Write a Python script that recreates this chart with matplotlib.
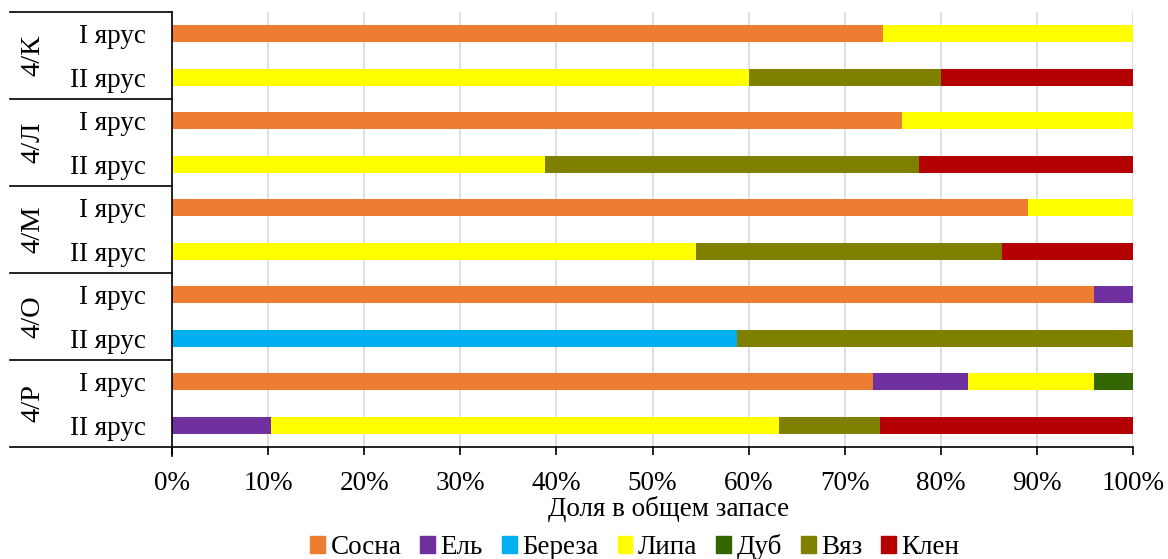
import matplotlib.pyplot as plt
import matplotlib.transforms as mtransforms
from matplotlib.patches import Patch

plt.rcParams['font.family'] = ['Liberation Serif', 'DejaVu Serif']

# categories (top to bottom)
groups = ['4/К', '4/Л', '4/М', '4/О', '4/Р']
tiers = ['I ярус', 'II ярус']
rows = [t for g in groups for t in tiers]

species = ['Сосна', 'Ель', 'Береза', 'Липа', 'Дуб', 'Вяз', 'Клен']
colors = ['#ED7D31', '#7030A0', '#00B0F0', '#FFFF00', '#336600', '#808000', '#B40000']

# share of total stock, % (one list per species, rows in the order above)
sosna  = [74, 0, 76, 0, 89.1, 0, 95.9, 0, 72.9, 0]
el     = [0, 0, 0, 0, 0, 0, 4.1, 0, 9.9, 10.3]
bereza = [0, 0, 0, 0, 0, 0, 0, 58.8, 0, 0]
lipa   = [26, 60, 24, 38.8, 10.9, 54.5, 0, 0, 13.1, 52.9]
dub    = [0, 0, 0, 0, 0, 0, 0, 0, 4.1, 0]
vyaz   = [0, 20, 0, 38.9, 0, 31.9, 0, 41.2, 0, 10.5]
klen   = [0, 20, 0, 22.3, 0, 13.6, 0, 0, 0, 26.3]
values = [sosna, el, bereza, lipa, dub, vyaz, klen]

fig = plt.figure(figsize=(11.68, 5.59), dpi=100)
ax = fig.add_axes([172 / 1168, 1 - 447 / 559, 961 / 1168, 435 / 559])

y = list(range(len(rows)))
left = [0] * len(rows)
for name, vals, c in zip(species, values, colors):
    ax.barh(y, vals, left=left, height=0.39, color=c, label=name, zorder=2)
    left = [l + v for l, v in zip(left, vals)]

ax.set_xlim(0, 100)
ax.set_ylim(len(rows) - 0.5, -0.5)
ax.set_xticks(range(0, 101, 10))
ax.set_xticklabels([f'{v}%' for v in range(0, 101, 10)], fontsize=19.5)
ax.tick_params(axis='x', length=6, width=1.2, pad=11)
ax.set_yticks(y)
ax.set_yticklabels(rows, fontsize=19.5)
ax.tick_params(axis='y', length=0, pad=19)
ax.grid(axis='x', color='#D9D9D9', linewidth=1.2, zorder=0)
for s in ['top', 'right']:
    ax.spines[s].set_visible(False)
ax.spines['left'].set_linewidth(1.2)
ax.spines['bottom'].set_linewidth(1.2)
ax.set_xlabel('Доля в общем запасе', fontsize=19.5)
ax.xaxis.set_label_coords(0.517, -0.112)

# group labels and separators on the category axis
tr = mtransforms.blended_transform_factory(ax.transAxes, ax.transData)
x0 = -162 / 961
for i, g in enumerate(groups):
    ax.text(-139 / 961, 2 * i + 0.5, g, transform=tr, rotation=90,
            ha='center', va='center', fontsize=20.5)
for b in range(len(groups) + 1):
    ax.plot([x0, 0], [2 * b - 0.5] * 2, transform=tr, color='black',
            linewidth=1.2, clip_on=False)
ax.plot([0, 0], [0, -0.02], transform=ax.transAxes, color='black',
        linewidth=1.2, clip_on=False)

handles = [Patch(color=c, label=n) for n, c in zip(species, colors)]
fig.legend(handles=handles, loc='center', bbox_to_anchor=(635 / 1168, 1 - 547 / 559),
           ncol=7, frameon=False, fontsize=19.5, handlelength=0.55, handleheight=0.55,
           handletextpad=0.2, columnspacing=0.7, borderpad=0)

fig.savefig('out.png', dpi=100)
